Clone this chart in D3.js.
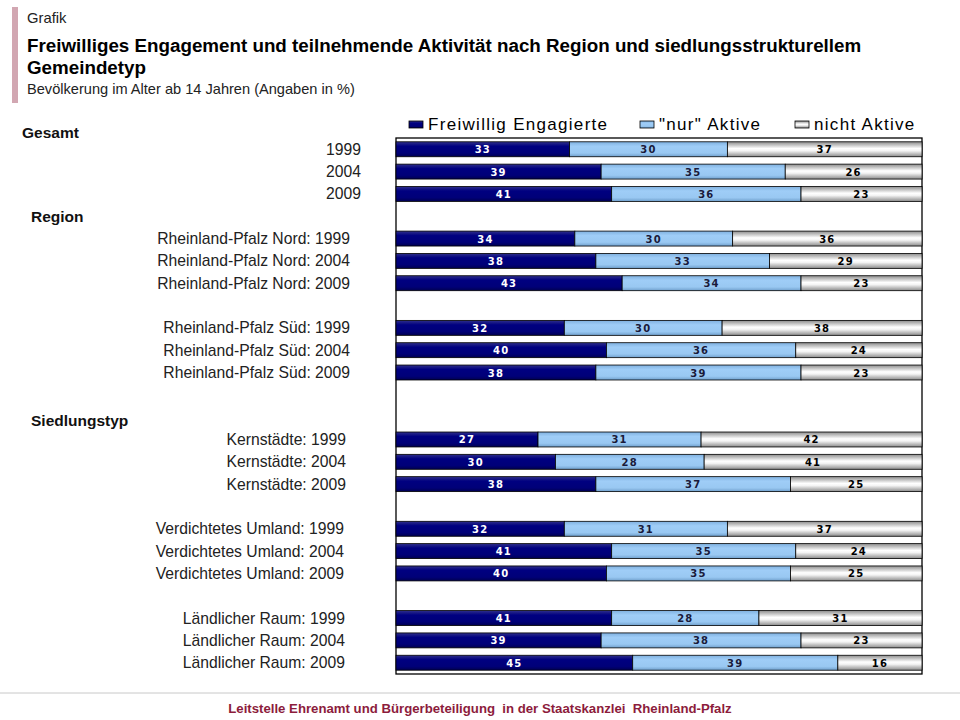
<!DOCTYPE html>
<html><head><meta charset="utf-8">
<script src="https://cdn.jsdelivr.net/npm/d3@7"></script>
<style>body{margin:0;background:#fff;}svg{display:block;}</style>
</head><body>
<script>
const rowLabels = ["1999","2004","2009","",
  "Rheinland-Pfalz Nord: 1999","Rheinland-Pfalz Nord: 2004","Rheinland-Pfalz Nord: 2009","",
  "Rheinland-Pfalz Süd: 1999","Rheinland-Pfalz Süd: 2004","Rheinland-Pfalz Süd: 2009","","",
  "Kernstädte: 1999","Kernstädte: 2004","Kernstädte: 2009","",
  "Verdichtetes Umland: 1999","Verdichtetes Umland: 2004","Verdichtetes Umland: 2009","",
  "Ländlicher Raum: 1999","Ländlicher Raum: 2004","Ländlicher Raum: 2009"];
const engagiert   = [33,39,41,null,34,38,43,null,32,40,38,null,null,27,30,38,null,32,41,40,null,41,39,45];
const nurAktive   = [30,35,36,null,30,33,34,null,30,36,39,null,null,31,28,37,null,31,35,35,null,28,38,39];
const nichtAktive = [37,26,23,null,36,29,23,null,38,24,23,null,null,42,41,25,null,37,24,25,null,31,23,16];
const seriesNames = ["Freiwillig Engagierte","\"nur\" Aktive","nicht Aktive"];
const sectionHeads = ["Gesamt","Region","Siedlungstyp"];

const W=960,H=720;
const svg=d3.select("body").append("svg").attr("width",W).attr("height",H);
const defs=svg.append("defs");
function grad(id,stops){
  const g=defs.append("linearGradient").attr("id",id).attr("x1",0).attr("y1",0).attr("x2",0).attr("y2",1);
  stops.forEach(s=>g.append("stop").attr("offset",s[0]).attr("stop-color",s[1]));
}
grad("g0",[[0,"#30308a"],[0.3,"#000080"],[0.75,"#000078"],[1,"#000050"]]);
grad("g1",[[0,"#7fb0df"],[0.3,"#9fcdf7"],[0.75,"#99c8f2"],[1,"#6f9fcc"]]);
grad("g2",[[0,"#8c8c8c"],[0.45,"#ffffff"],[0.6,"#f4f4f4"],[1,"#8a8a8a"]]);
const fills=["url(#g0)","url(#g1)","url(#g2)"];
const textCol=["#ffffff","#1a1a3a","#000000"];
const FF="Liberation Sans, Arial";

// header
svg.append("rect").attr("x",12).attr("y",7).attr("width",6).attr("height",96).attr("fill","#d2a7b2");
svg.append("text").attr("x",27).attr("y",23).text("Grafik").attr("font-family",FF).attr("font-size",14.8).attr("fill","#222");
svg.append("text").attr("x",27).attr("y",52).text("Freiwilliges Engagement und teilnehmende Aktivität nach Region und siedlungsstrukturellem").attr("font-family",FF).attr("font-weight","bold").attr("font-size",18.8).attr("fill","#000");
svg.append("text").attr("x",27).attr("y",74).text("Gemeindetyp").attr("font-family",FF).attr("font-weight","bold").attr("font-size",18.8).attr("fill","#000");
svg.append("text").attr("x",27).attr("y",94).text("Bevölkerung im Alter ab 14 Jahren (Angaben in %)").attr("font-family",FF).attr("font-size",14.6).attr("fill","#222");

// plot
const pLeft=396,pRight=922,pTop=138,pBottom=674;
const y=d3.scaleBand().domain(d3.range(rowLabels.length)).range([pTop,pBottom]).paddingInner(0.33).paddingOuter(0.17);
const x=d3.scaleLinear().domain([0,1]).range([pLeft,pRight]);

const rows=rowLabels.map((l,i)=>({i,l,a:engagiert[i],b:nurAktive[i],c:nichtAktive[i]}));
const valid=rows.filter(r=>r.a!=null);
const stack=d3.stack().keys(["a","b","c"]).offset(d3.stackOffsetExpand);
const stacked=stack(valid);

svg.append("rect").attr("x",pLeft).attr("y",pTop).attr("width",pRight-pLeft).attr("height",pBottom-pTop)
  .attr("fill","#fff").attr("stroke","#000").attr("stroke-width",1.3);

stacked.forEach((s,si)=>{
  const g=svg.append("g");
  g.selectAll("rect").data(s).join("rect")
    .attr("x",d=>x(d[0])).attr("y",d=>y(d.data.i))
    .attr("width",d=>x(d[1])-x(d[0])).attr("height",y.bandwidth())
    .attr("fill",fills[si]).attr("stroke","#000").attr("stroke-width",0.8);
  g.selectAll("text").data(s).join("text")
    .attr("x",d=>(x(d[0])+x(d[1]))/2).attr("y",d=>y(d.data.i)+y.bandwidth()/2+4)
    .attr("text-anchor","middle").attr("font-family","DejaVu Sans, Verdana").attr("font-weight","bold")
    .attr("font-size",10).attr("letter-spacing",1.2).attr("fill",textCol[si])
    .text(d=>d.data[["a","b","c"][si]]);
});

// row labels (right edge varies slightly per group as in the original)
function labelRight(l){
  if(l.length===4) return 361;
  if(l.startsWith("Kern")) return 346;
  if(l.startsWith("Verd")) return 344;
  if(l.startsWith("Länd")) return 345;
  return 350;
}
svg.append("g").selectAll("text").data(rows.filter(r=>r.l!=="")).join("text")
  .attr("x",r=>labelRight(r.l)).attr("y",r=>y(r.i)+y.bandwidth()/2+5.5)
  .attr("text-anchor","end").attr("font-family",FF).attr("font-size",15.7).attr("fill","#222")
  .text(r=>r.l);

// section heads
const headPos=[[22,138],[31,222],[31,426]];
sectionHeads.forEach((h,i)=>svg.append("text").attr("x",headPos[i][0]).attr("y",headPos[i][1]).text(h)
  .attr("font-family",FF).attr("font-weight","bold").attr("font-size",15.5).attr("fill","#111"));

// legend
const legX=[409,640,795];
const lg=svg.append("g");
seriesNames.forEach((n,i)=>{
  lg.append("rect").attr("x",legX[i]).attr("y",121).attr("width",14).attr("height",7)
    .attr("fill",fills[i]).attr("stroke","#000").attr("stroke-width",0.8);
  lg.append("text").attr("x",legX[i]+19).attr("y",130).text(n)
    .attr("font-family",FF).attr("font-size",17).attr("letter-spacing",1.3).attr("fill","#000");
});

// footer
svg.append("line").attr("x1",0).attr("x2",W).attr("y1",693).attr("y2",693).attr("stroke","#c8c8c8").attr("stroke-width",1);
svg.append("text").attr("x",480).attr("y",713).attr("text-anchor","middle").text("Leitstelle Ehrenamt und Bürgerbeteiligung  in der Staatskanzlei  Rheinland-Pfalz")
  .style("white-space","pre")
  .attr("font-family",FF).attr("font-weight","bold").attr("font-size",13.2).attr("fill","#8c1c3c");
</script>
</body></html>
